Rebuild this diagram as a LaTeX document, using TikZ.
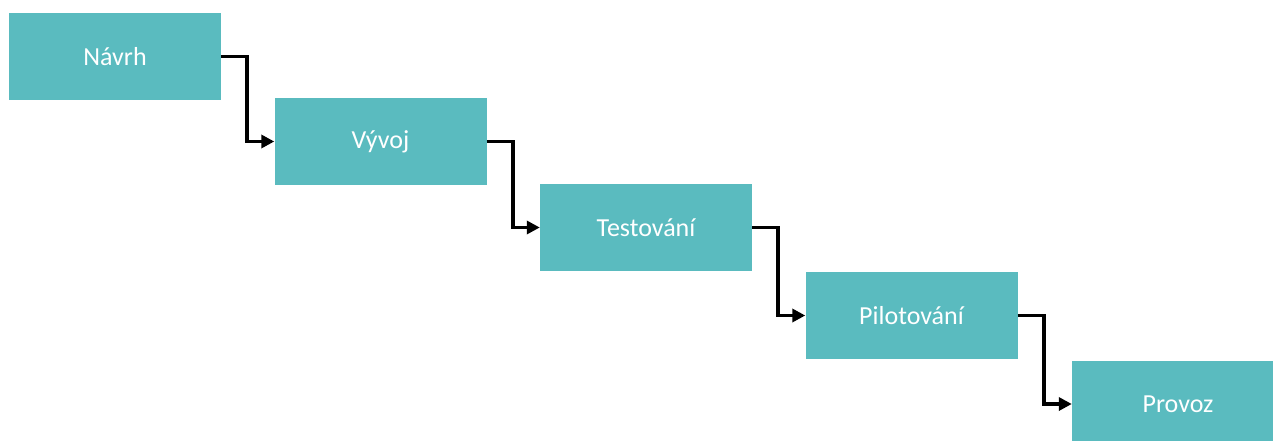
\documentclass[tikz,border=0pt]{standalone}
\usepackage{fontspec}
\setmainfont{Carlito}
\usetikzlibrary{arrows.meta}
\definecolor{teal1}{HTML}{5ABBBF}
\begin{document}
\begin{tikzpicture}[x=1pt,y=-1pt,
  phase/.style={fill=teal1,draw=none,minimum width=212pt,minimum height=87pt,inner sep=0pt,text=white,font=\fontsize{26}{30}\selectfont},
  link/.style={line width=3.6pt,-{Triangle[length=13pt,width=13pt]}}]
\useasboundingbox (0,0) rectangle (1273,441);
\clip (0,0) rectangle (1273,441);
\fill[white] (0,0) rectangle (1273,441);
\node[phase] (n1) at (115,56.5) {Návrh};
\node[phase] (n2) at (380.5,141.5) {Vývoj};
\node[phase] (n3) at (646,227.5) {Testování};
\node[phase] (n4) at (911.5,315.5) {Pilotování};
\node[phase] (n5) at (1178,404) {Provoz};
\draw[link] (n1.east) -- ++(26,0) |- (n2.west);
\draw[link] (n2.east) -- ++(26,0) |- (n3.west);
\draw[link] (n3.east) -- ++(26,0) |- (n4.west);
\draw[link] (n4.east) -- ++(26,0) |- (n5.west);
\end{tikzpicture}
\end{document}
